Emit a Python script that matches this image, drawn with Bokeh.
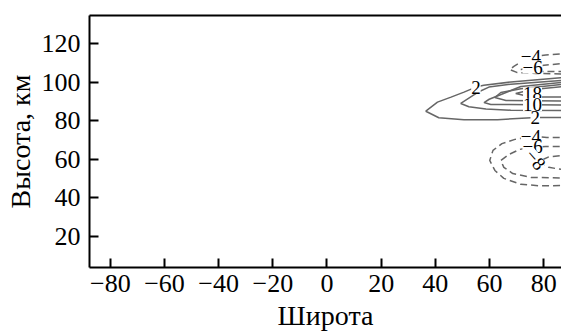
from bokeh.plotting import figure
from bokeh.models import LinearAxis, FixedTicker, Range1d
from bokeh.core.properties import value
from bokeh.embed import file_html
from bokeh.resources import INLINE

# ---- data (latitude, altitude km) ----
x_ticks = [-80, -60, -40, -20, 0, 20, 40, 60, 80]
y_ticks = [20, 40, 60, 80, 100, 120]

# positive contours (solid)
c2_lat = [90, 86.3, 69.0, 57.9, 55.0, 50.6, 45.8, 40.8, 36.5, 41.3, 50.6, 63.0, 77.1, 86.3, 90]
c2_alt = [102.4, 102.2, 100.2, 98.4, 97.4, 94.8, 92.2, 89.6, 84.9, 81.5, 80.5, 80.5, 81.7, 81.7, 81.7]
c6_lat = [90, 86.7, 67.9, 59.8, 56.1, 49.4, 52.4, 58.7, 67.9, 86.7, 90]
c6_alt = [101.1, 100.9, 98.9, 97.4, 95.0, 88.9, 87.2, 86.0, 85.4, 85.3, 85.3]
c10_lat = [90, 86.7, 71.6, 63.6, 59.9, 58.0, 60.5, 67.3, 86.7, 90]
c10_alt = [100.0, 99.8, 97.7, 93.2, 91.1, 89.4, 88.4, 88.4, 88.1, 88.1]
c14_lat = [90, 86.7, 71.6, 64.2, 62.0, 66.1, 86.7, 90]
c14_alt = [99.0, 98.8, 96.5, 94.6, 92.0, 90.5, 90.2, 90.2]
c18_lat = [90, 86.7, 75.3, 69.7, 75.3, 86.7, 90]
c18_alt = [97.8, 97.6, 96.0, 94.1, 92.3, 92.3, 92.3]

# negative contours (dashed)
n4u_lat = [90, 86.7, 80.8, 75.3, 72.0, 69.0, 67.5, 70.1, 77.1, 86.7, 90]
n4u_alt = [114.8, 114.6, 114.0, 113.3, 110.7, 108.1, 106.5, 105.0, 104.5, 104.2, 104.2]
n6u_lat = [90, 86.7, 79.0, 75.6, 71.6, 79.0, 86.7, 90]
n6u_alt = [109.8, 109.6, 108.6, 107.6, 106.5, 105.5, 105.5, 105.5]
n4l_lat = [90, 86.7, 81.2, 76.0, 69.4, 64.6, 61.3, 60.1, 62.0, 65.3, 71.6, 79.0, 86.7, 90]
n4l_alt = [71.3, 71.3, 71.3, 71.8, 70.3, 68.1, 64.6, 59.4, 54.2, 50.1, 47.0, 46.2, 46.4, 46.4]
n6l_lat = [90, 86.7, 80.8, 75.6, 71.2, 67.2, 64.2, 65.3, 68.6, 75.3, 86.7, 90]
n6l_alt = [66.6, 66.6, 66.6, 66.3, 65.1, 62.5, 59.4, 55.8, 52.6, 50.6, 50.3, 50.3]
n8l_lat = [90, 86.7, 81.9, 78.2, 81.9, 86.7, 90]
n8l_alt = [62.0, 62.0, 61.2, 58.9, 55.8, 54.7, 54.7]

label_text = ["2", "18", "10", "2", "\u22124", "\u22126", "\u22124", "\u22126"]
label_lat = [55.0, 75.9, 75.9, 76.9, 75.3, 75.9, 75.3, 75.9]
label_alt = [97.4, 94.0, 88.4, 81.4, 113.3, 107.8, 71.7, 66.5]
rot_text = ["\u22128"]
rot_lat = [77.0]
rot_alt = [59.8]

FONT = "Liberation Serif"

p = figure(width=561, height=334, output_backend="svg", toolbar_location=None,
           x_range=Range1d(-87.7, 86.6), y_range=Range1d(3.9, 134.5),
           x_axis_label="Широта", y_axis_label="Высота, км")
p.min_border_left = 89
p.min_border_right = 0
p.min_border_top = 15
p.min_border_bottom = 67
p.outline_line_color = None
p.grid.visible = False
p.background_fill_color = "white"
p.border_fill_color = "white"

minus = lambda v: ("\u2212" + str(-v)) if v < 0 else str(v)
p.xaxis.ticker = FixedTicker(ticks=x_ticks)
p.yaxis.ticker = FixedTicker(ticks=y_ticks)
p.xaxis.major_label_overrides = {v: minus(v) for v in x_ticks}

for ax in (p.xaxis[0], p.yaxis[0]):
    ax.axis_line_width = 2
    ax.axis_line_color = "black"
    ax.major_tick_line_width = 2
    ax.major_tick_line_color = "black"
    ax.major_tick_in = 9
    ax.major_tick_out = 0
    ax.minor_tick_line_color = None
    ax.major_label_text_font = FONT
    ax.major_label_text_font_size = "26px"
    ax.major_label_text_color = "black"
    ax.axis_label_text_font = FONT
    ax.axis_label_text_font_size = "28px"
    ax.axis_label_text_font_style = "normal"
    ax.axis_label_text_color = "black"
p.xaxis.major_label_standoff = 7
p.xaxis.axis_label_standoff = 5
p.yaxis.major_label_standoff = 9
p.yaxis.axis_label_standoff = 3

top = LinearAxis(ticker=FixedTicker(ticks=[]), axis_line_width=2, axis_line_color="black",
                 major_tick_line_color=None, minor_tick_line_color=None,
                 major_label_text_font_size="0px")
p.add_layout(top, "above")

solid_c = "#666666"
for lx, ly in [(c2_lat, c2_alt), (c6_lat, c6_alt), (c10_lat, c10_alt),
               (c14_lat, c14_alt), (c18_lat, c18_alt)]:
    p.line(lx, ly, line_color=solid_c, line_width=1.5)
for lx, ly in [(n4u_lat, n4u_alt), (n6u_lat, n6u_alt), (n4l_lat, n4l_alt),
               (n6l_lat, n6l_alt), (n8l_lat, n8l_alt)]:
    p.line(lx, ly, line_color=solid_c, line_width=1.5, line_dash="7 4")

p.text(x=label_lat, y=label_alt, text=label_text, text_font=value(FONT),
       text_font_size="19px", text_align="center", text_baseline="middle",
       text_color="black", background_fill_color="white")
p.text(x=rot_lat, y=rot_alt, text=rot_text, text_font=value(FONT),
       text_font_size="19px", text_align="center", text_baseline="middle",
       text_color="black", angle=-0.85, background_fill_color="white")

open("out.html", "w").write(file_html(p, INLINE))
